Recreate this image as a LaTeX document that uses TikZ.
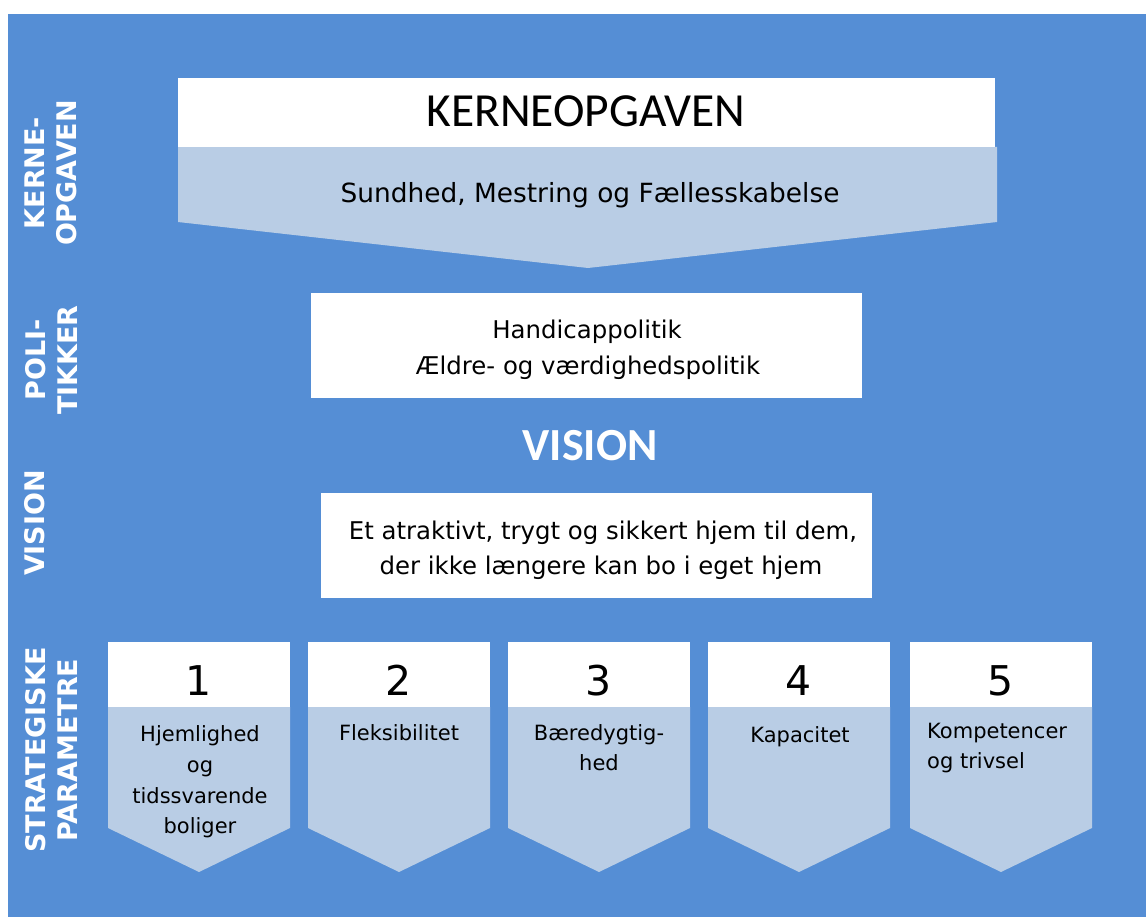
\documentclass[tikz,border=0pt]{standalone}
\usepackage{fontspec}
\setmainfont{DejaVu Sans}
\newfontfamily\calib{Carlito}
\definecolor{bgblue}{HTML}{558ED5}
\definecolor{lightblue}{HTML}{B9CDE5}
\begin{document}
\begin{tikzpicture}[x=1pt,y=-1pt,
  lbl/.style={rotate=90, align=center, text=white, font=\bfseries\fontsize{27}{32}\selectfont, inner sep=0},
  txt/.style={anchor=base, inner sep=0, text=black},
  big/.style={txt, font=\fontsize{24.4}{36}\selectfont},
  ptxt/.style={txt, font=\fontsize{21}{31}\selectfont},
  num/.style={txt, font=\fontsize{41}{48}\selectfont}]
\useasboundingbox (0,0) rectangle (1146,917);
\fill[white] (0,0) rectangle (1146,917);
\fill[bgblue] (8,14) rectangle (1146,917);

% side labels
\node[lbl] (l1) at (51,173) {KERNE-\\OPGAVEN};
\node[lbl] (l2) at (51,360) {POLI-\\TIKKER};
\node[lbl] (l3) at (35,523) {VISION};
\node[lbl] (l4) at (51,750) {STRATEGISKE\\PARAMETRE};

% kerneopgaven
\fill[lightblue] (178,147) -- (997,147) -- (997,222) -- (588,268) -- (178,222) -- cycle;
\fill[white] (178,78) rectangle (995,147);
\node[txt, font=\calib\fontsize{47.5}{56}\selectfont] (k) at (586,127) {KERNEOPGAVEN};
\node[txt, font=\fontsize{26.4}{30}\selectfont] (s) at (590,203) {Sundhed, Mestring og Fællesskabelse};

% politikker
\fill[white] (311,293) rectangle (862,398);
\node[big] (p1) at (587,338) {Handicappolitik};
\node[big] (p2) at (588,374) {Ældre- og værdighedspolitik};

% vision
\node[txt, text=white, font=\calib\bfseries\fontsize{46}{54}\selectfont] (v) at (590,460) {VISION};
\fill[white] (321,493) rectangle (872,598);
\node[big] (v1) at (603,539) {Et atraktivt, trygt og sikkert hjem til dem,};
\node[big] (v2) at (601,574) {der ikke længere kan bo i eget hjem};

% parameters
\foreach \i/\x in {1/108,2/308,3/508,4/708,5/910} {
  \fill[lightblue] (\x,707) -- ++(182,0) -- ++(0,121) -- ++(-91,44) -- ++(-91,-44) -- cycle;
  \fill[white] (\x,642) rectangle ++(182,65);
  \node[num] (n\i) at (\x+91,695) {\i};
}
\node[ptxt] (a1) at (200,741) {Hjemlighed};
\node[ptxt] (a2) at (200,772) {og};
\node[ptxt] (a3) at (200,803) {tidssvarende};
\node[ptxt] (a4) at (200,833) {boliger};
\node[ptxt] (b1) at (399,740) {Fleksibilitet};
\node[ptxt] (c1) at (599,740) {Bæredygtig-};
\node[ptxt] (c2) at (599,770) {hed};
\node[ptxt] (d1) at (800,742) {Kapacitet};
\node[ptxt, anchor=base west] (e1) at (927,738) {Kompetencer};
\node[ptxt, anchor=base west] (e2) at (927,768) {og trivsel};
\end{tikzpicture}
\end{document}
